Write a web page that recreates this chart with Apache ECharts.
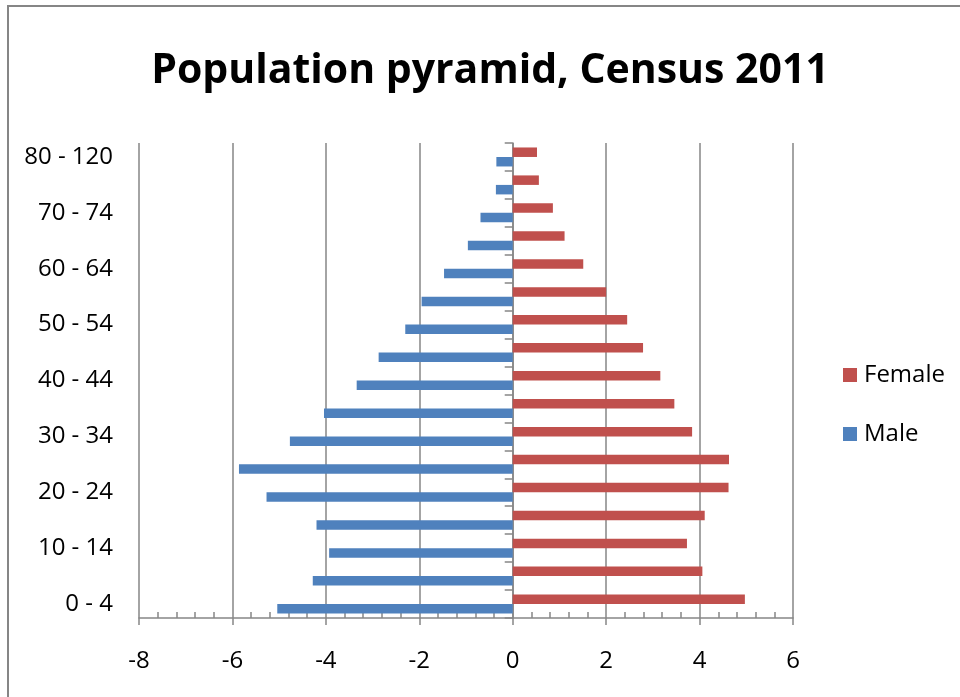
<!DOCTYPE html>
<html>
<head>
<meta charset="utf-8">
<script src="https://cdn.jsdelivr.net/npm/echarts@6/dist/echarts.min.js"></script>
<style>
  html, body { margin: 0; padding: 0; background: #ffffff; }
  #chart { width: 960px; height: 697px; }
</style>
</head>
<body>
<div id="chart"></div>
<script>
// Age groups, youngest first (drawn bottom to top)
const ageGroups = ['0 - 4', '5 - 9', '10 - 14', '15 - 19', '20 - 24', '25 - 29', '30 - 34',
  '35 - 39', '40 - 44', '45 - 49', '50 - 54', '55 - 59', '60 - 64', '65 - 69',
  '70 - 74', '75 - 79', '80 - 120'];

// Share of population (%) per age group; males shown to the left of zero
const femaleShare = [4.97, 4.06, 3.73, 4.11, 4.62, 4.63, 3.84, 3.46, 3.16, 2.79,
  2.45, 2.00, 1.51, 1.11, 0.86, 0.56, 0.52];
const maleShare = [-5.04, -4.28, -3.93, -4.20, -5.27, -5.86, -4.77, -4.04, -3.34, -2.87,
  -2.30, -1.95, -1.47, -0.96, -0.69, -0.36, -0.35];

const seriesNames = ['Female', 'Male'];
const xTicks = { min: -8, max: 6, step: 2 };

const FONT = '"Open Sans", "Noto Sans", sans-serif';
const GREY = '#868686';

const chart = echarts.init(document.getElementById('chart'), null, { renderer: 'canvas' });

chart.setOption({
  backgroundColor: '#ffffff',
  animation: false,
  title: {
    text: 'Population pyramid, Census 2011',
    left: 485,
    top: 46,
    textAlign: 'center',
    textStyle: { fontFamily: FONT, fontWeight: 'bold', fontSize: 41, color: '#000000' }
  },
  graphic: [{
    type: 'rect',
    shape: { x: 8, y: 6, width: 1000, height: 1000 },
    style: { fill: 'none', stroke: GREY, lineWidth: 2 },
    silent: true,
    z: -1
  }],
  legend: {
    orient: 'vertical',
    left: 843,
    top: 363,
    padding: 0,
    itemWidth: 14,
    itemHeight: 14,
    itemGap: 35,
    icon: 'rect',
    data: seriesNames,
    textStyle: { fontFamily: FONT, fontSize: 24, lineHeight: 24, color: '#000000', padding: [0, 0, 0, 2] }
  },
  grid: { left: 139, right: 167, top: 143, bottom: 79, containLabel: false },
  xAxis: [{
    type: 'value',
    min: xTicks.min,
    max: xTicks.max,
    interval: xTicks.step,
    position: 'bottom',
    axisLine: { show: true, onZero: false, lineStyle: { color: GREY, width: 1.5 } },
    axisTick: { show: true, length: 7, lineStyle: { color: GREY, width: 1.5 } },
    splitLine: { show: true, lineStyle: { color: GREY, width: 1.5 } },
    axisLabel: { margin: 31, fontFamily: FONT, fontSize: 24, color: '#000000' }
  }, {
    // minor tick marks along the value axis, pointing into the plot
    type: 'value',
    min: xTicks.min,
    max: xTicks.max,
    interval: xTicks.step,
    position: 'bottom',
    axisLine: { show: false, onZero: false },
    axisTick: { show: false, inside: true },
    minorTick: { show: true, splitNumber: 5, length: 6, lineStyle: { color: GREY, width: 1.5 } },
    splitLine: { show: false },
    axisLabel: { show: false }
  }],
  yAxis: [{
    // age-group labels along the left edge of the plot
    type: 'category',
    data: ageGroups,
    position: 'left',
    axisLine: { show: false, onZero: false },
    axisTick: { show: false },
    axisLabel: { interval: 1, margin: 26, fontFamily: FONT, fontSize: 24, color: '#000000' }
  }, {
    // vertical axis line with category ticks at zero
    type: 'category',
    data: ageGroups,
    position: 'left',
    axisLine: { show: true, onZero: true, lineStyle: { color: GREY, width: 1.5 } },
    axisTick: { show: true, interval: 0, length: 8, lineStyle: { color: GREY, width: 1.5 } },
    axisLabel: { show: false }
  }],
  series: [{
    name: seriesNames[0],
    type: 'bar',
    xAxisIndex: 0,
    yAxisIndex: 0,
    data: femaleShare,
    barWidth: 9.5,
    barGap: '0%',
    itemStyle: { color: '#C0504D' }
  }, {
    name: seriesNames[1],
    type: 'bar',
    xAxisIndex: 0,
    yAxisIndex: 0,
    data: maleShare,
    barWidth: 9.5,
    barGap: '0%',
    itemStyle: { color: '#4F81BD' }
  }]
});
</script>
</body>
</html>
